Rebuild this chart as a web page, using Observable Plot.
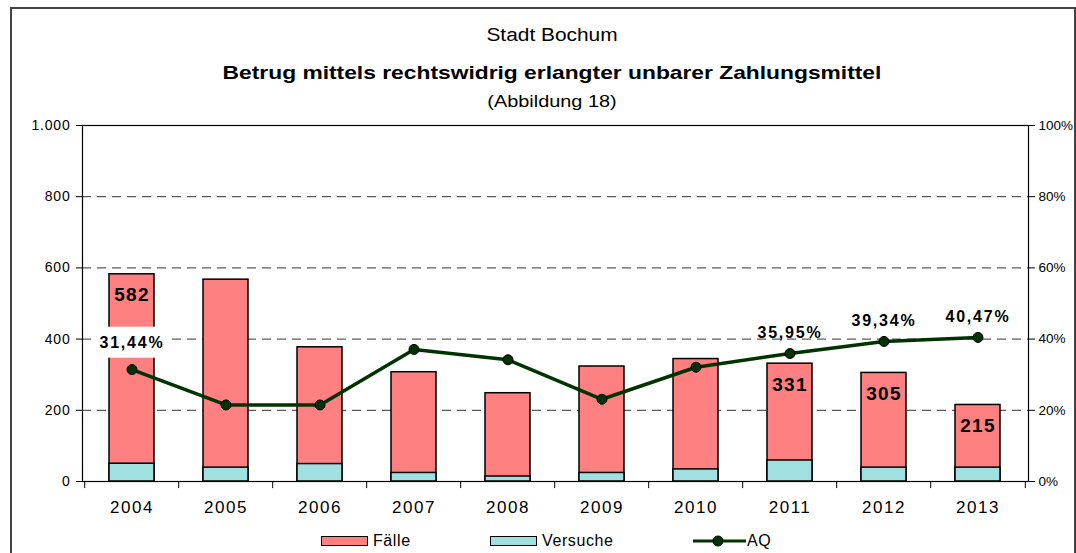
<!DOCTYPE html>
<html>
<head>
<meta charset="utf-8">
<script src="https://cdn.jsdelivr.net/npm/d3@7"></script>
<script src="https://cdn.jsdelivr.net/npm/@observablehq/plot@0.6"></script>
<style>
  html, body { margin: 0; padding: 0; background: #fff; }
  #wrap { position: relative; width: 1076px; height: 553px; overflow: hidden; font-family: "Liberation Sans", Arial, sans-serif; }
  #frame { position: absolute; left: 10px; top: 7px; width: 1066px; height: 600px; border: 2px solid #444; box-sizing: border-box; pointer-events: none; }
  .t { position: absolute; left: 0; width: 1104px; text-align: center; color: #000; white-space: nowrap; transform-origin: 552px 50%; }
  #t1 { top: 25px; font-size: 18px; transform: scaleX(1.16); }
  #t2 { top: 62px; font-size: 19px; font-weight: bold; transform: scaleX(1.2); }
  #t3 { top: 92px; font-size: 17px; transform: scaleX(1.17); }
  #legend { position: absolute; top: 531px; left: 0; width: 1076px; height: 20px; font-size: 16px; letter-spacing: 0.6px; }
  .li { position: absolute; top: 0; display: flex; align-items: center; height: 20px; }
  .sw { width: 47px; height: 10px; border: 1.5px solid #000; margin-right: 5px; box-sizing: border-box; }
  svg.plot { position: absolute; left: 0; top: 0; }
  g[aria-label="x-axis tick label"] text { letter-spacing: 1.5px; }
  g[aria-label="y-axis tick label"][text-anchor="end"] text { letter-spacing: 0.8px; }
</style>
</head>
<body>
<div id="wrap">
  <div id="frame"></div>
  <div class="t" id="t1">Stadt Bochum</div>
  <div class="t" id="t2">Betrug mittels rechtswidrig erlangter unbarer Zahlungsmittel</div>
  <div class="t" id="t3">(Abbildung 18)</div>
  <div id="legend">
    <div class="li" style="left:321px"><div class="sw" style="background:#FF8080"></div>Fälle</div>
    <div class="li" style="left:490px"><div class="sw" style="background:#A0E0E0"></div>Versuche</div>
    <div class="li" style="left:693px">
      <svg width="53" height="20" style="margin-right:1px"><line x1="0" y1="10" x2="53" y2="10" stroke="#003300" stroke-width="3"/><circle cx="25" cy="10" r="5" fill="#003300" stroke="#000"/></svg>AQ
    </div>
  </div>
</div>
<script>
const years = ["2004","2005","2006","2007","2008","2009","2010","2011","2012","2013"];
const faelle = [582, 567, 377, 307, 248, 323, 344, 331, 305, 215];
const versuche = [50, 39, 49, 24, 14, 24, 34, 59, 39, 39];
const aq = [31.44, 21.5, 21.5, 37.1, 34.2, 23.1, 32.1, 35.95, 39.34, 40.47];
const countLabelYears = ["2004","2011","2012","2013"];
const aqLabelYears = ["2011","2012","2013"];
const aqBoxedLabelYears = ["2004"];
const leftTicks = [0, 200, 400, 600, 800, 1000];
const rightTicks = [0, 20, 40, 60, 80, 100];
const gridTicks = [200, 400, 600, 800];

const data = years.map((year, i) => ({year, faelle: faelle[i], versuche: versuche[i], aq: aq[i]}));
const pctScale = 10; // 100% on the right axis = 1000 on the left
const fmtCount = d => d >= 1000 ? d3.format(",")(d).replace(/,/g, ".") : String(d);
const fmtPct = v => v.toFixed(2).replace(".", ",") + "%";
const step = (1076 - 82 - 48) / years.length;

const chart = Plot.plot({
  width: 1076,
  height: 553,
  marginLeft: 82,
  marginRight: 48,
  marginTop: 125,
  marginBottom: 72,
  style: {fontFamily: "Liberation Sans, Arial, sans-serif", fontSize: "14px", color: "#000", background: "transparent"},
  x: {domain: years, paddingInner: 0.52, paddingOuter: 0.26, label: null},
  y: {domain: [0, 1000], label: null},
  marks: [
    Plot.ruleY(gridTicks, {stroke: "#333", strokeDasharray: "9,6", strokeWidth: 1}),
    Plot.barY(data, {x: "year", y: "faelle", fill: "#FF8080", stroke: "#000", strokeWidth: 1.5}),
    Plot.barY(data, {x: "year", y: "versuche", fill: "#A0E0E0", stroke: "#000", strokeWidth: 1.5}),
    Plot.text(data.filter(d => countLabelYears.includes(d.year)), {
      x: "year", y: "faelle", text: d => String(d.faelle), dy: 21,
      fontSize: 19, fontWeight: "bold", fill: "#000"
    }),
    Plot.line(data, {x: "year", y: d => d.aq * pctScale, stroke: "#003300", strokeWidth: 3.5}),
    Plot.dot(data, {x: "year", y: d => d.aq * pctScale, r: 5, fill: "#003300", stroke: "#000", strokeWidth: 1}),
    Plot.text(data.filter(d => aqLabelYears.includes(d.year)), {
      x: "year", y: d => d.aq * pctScale, text: d => fmtPct(d.aq), dy: -21,
      fontSize: 16, fontWeight: "bold", fill: "#000"
    }),
    Plot.text(data.filter(d => aqBoxedLabelYears.includes(d.year)), {
      x: "year", y: d => d.aq * pctScale, text: d => fmtPct(d.aq), dy: -27,
      fontSize: 16, fontWeight: "bold", fill: "#000"
    }),
    Plot.frame({stroke: "#000", strokeWidth: 1.2}),
    Plot.ruleX(years, {x: d => d, dx: -step / 2, y1: 0, y2: -20, stroke: "#000", strokeWidth: 1}),
    Plot.ruleX(years.slice(-1), {x: d => d, dx: step / 2, y1: 0, y2: -20, stroke: "#000", strokeWidth: 1}),
    Plot.axisY({anchor: "left", ticks: leftTicks, tickFormat: fmtCount, tickSize: 6, tickPadding: 6, fontSize: 14, label: null}),
    Plot.axisY({anchor: "right", ticks: leftTicks, tickFormat: d => rightTicks[leftTicks.indexOf(d)] + "%", tickSize: 6, tickPadding: 4, fontSize: 13.5, label: null}),
    Plot.axisX({anchor: "bottom", tickSize: 0, tickPadding: 19, fontSize: 17, label: null})
  ]
});
document.getElementById("wrap").insertBefore(chart, document.getElementById("frame"));
const textGroups = chart.querySelectorAll('g[aria-label="text"]');
if (textGroups[0]) textGroups[0].querySelectorAll("text").forEach(t => t.style.letterSpacing = "1.2px");
if (textGroups[1]) textGroups[1].querySelectorAll("text").forEach(t => t.style.letterSpacing = "1.8px");
if (textGroups[2]) textGroups[2].querySelectorAll("text").forEach(t => {
  t.style.letterSpacing = "1.8px";
  const b = t.getBBox();
  const r = document.createElementNS("http://www.w3.org/2000/svg", "rect");
  r.setAttribute("x", b.x - 4);
  r.setAttribute("y", b.y - 7);
  r.setAttribute("width", b.width + 6);
  r.setAttribute("height", b.height + 14);
  r.setAttribute("fill", "#fff");
  if (t.getAttribute("transform")) r.setAttribute("transform", t.getAttribute("transform"));
  t.parentNode.insertBefore(r, t);
});
</script>
</body>
</html>
